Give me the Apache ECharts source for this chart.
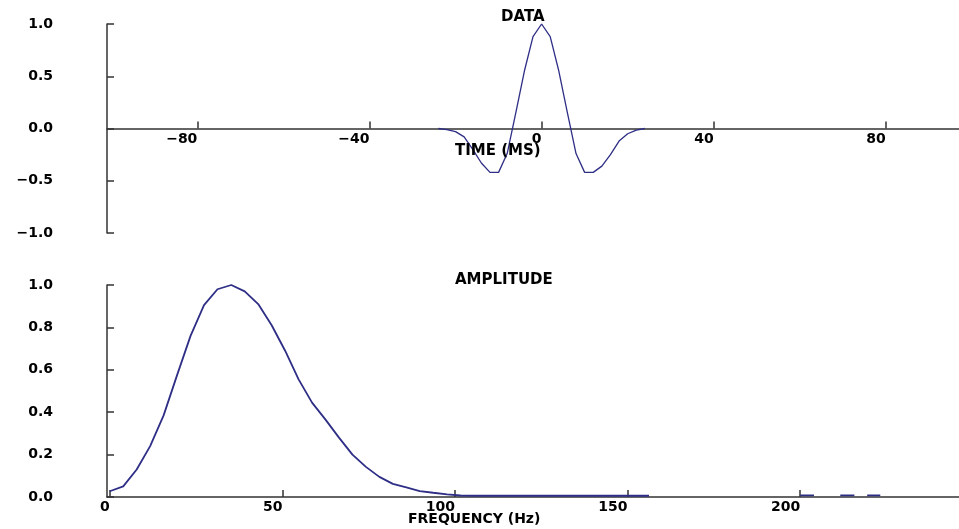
<!DOCTYPE html>
<html>
<head>
<meta charset="utf-8">
<script src="https://cdn.jsdelivr.net/npm/echarts@6/dist/echarts.min.js"></script>
<style>
html,body{margin:0;padding:0;background:#fff;}
#chart{width:959px;height:529px;}
</style>
</head>
<body>
<div id="chart"></div>
<script>
// ---- Top panel: wavelet in time domain ----
const timeMs = [-24,-22,-20,-18,-16,-14,-12,-10,-8,-6,-4,-2,0,2,4,6,8,10,12,14,16,18,20,22,24];
const waveAmp = [0,-0.01,-0.03,-0.08,-0.2,-0.33,-0.42,-0.42,-0.24,0.15,0.55,0.88,1.0,0.88,0.55,0.15,-0.24,-0.42,-0.42,-0.36,-0.25,-0.12,-0.05,-0.015,0];
const timeTicks = [-80,-40,0,40,80];

// ---- Bottom panel: amplitude spectrum ----
const freqHz = [0,3.9,7.8,11.7,15.6,19.5,23.4,27.3,31.2,35.2,39.1,43.0,46.9,50.8,54.7,58.6,62.5,66.4,70.3,74.2,78.1,82.0,85.9,89.8,93.7,97.7,101.6,105.5,109.4,113.3,117.2,121.1,125.0,128.9,132.8,136.7,140.6,144.5,148.4,152.3,156.2,
  180,200,204,208,211.6,215.7,217,219.4,223.2];
const specAmp = [0.027,0.05,0.13,0.24,0.385,0.575,0.76,0.905,0.98,1.0,0.97,0.91,0.81,0.69,0.555,0.445,0.365,0.28,0.2,0.142,0.095,0.062,0.045,0.028,0.02,0.012,0.007,0.006,0.006,0.006,0.006,0.006,0.006,0.006,0.006,0.006,0.006,0.006,0.006,0.006,0.006,
  null,0.008,0.008,null,0.008,0.008,null,0.008,0.008];
const freqTicks = [0,50,100,150,200];

const FONT = 'DejaVu Sans';
const AX = '#333333';
const LINE = '#2e2e86';

function fmtMinus(v, d){
  const s = (d === undefined) ? String(v) : Number(v).toFixed(d);
  return s.replace('-', '\u2212');
}

const labelStyle = {fontFamily: FONT, fontWeight: 'bold', fontSize: 14, color: '#000'};
const titleStyle = {fontFamily: FONT, fontWeight: 'bold', fontSize: 15, color: '#000'};

const TOP_H = 209;

const chart = echarts.init(document.getElementById('chart'), null, {renderer: 'canvas'});
chart.setOption({
  animation: false,
  backgroundColor: '#ffffff',
  title: [
    {text: 'DATA', left: 501, top: 10, padding: 0, textStyle: titleStyle},
    {text: 'TIME (MS)', left: 455, top: 144, padding: 0, textStyle: titleStyle},
    {text: 'AMPLITUDE', left: 455, top: 273, padding: 0, textStyle: titleStyle},
    {text: 'FREQUENCY (Hz)', left: 408, top: 512, padding: 0, textStyle: Object.assign({}, titleStyle, {fontSize: 14})}
  ],
  grid: [
    {left: 107, right: 0, top: 24, height: TOP_H, containLabel: false},
    {left: 107, right: 0, top: 285, height: 212, containLabel: false}
  ],
  xAxis: [
    {
      gridIndex: 0, type: 'value', min: -101, max: 97,
      position: 'bottom', offset: -TOP_H / 2,
      axisLine: {show: true, onZero: false, lineStyle: {color: AX, width: 1.5}},
      axisTick: {show: true, inside: true, length: 7, customValues: timeTicks, lineStyle: {color: AX, width: 1.5}},
      axisLabel: Object.assign({customValues: timeTicks, align: 'right', margin: 4,
        formatter: v => fmtMinus(v)}, labelStyle),
      splitLine: {show: false}
    },
    {
      gridIndex: 1, type: 'value', min: -0.8, max: 246,
      axisLine: {show: true, onZero: false, lineStyle: {color: AX, width: 1.5}},
      axisTick: {show: true, inside: true, length: 7, customValues: freqTicks, lineStyle: {color: AX, width: 1.5}},
      axisLabel: Object.assign({customValues: freqTicks, align: 'right', margin: 3,
        formatter: v => String(v)}, labelStyle),
      splitLine: {show: false}
    }
  ],
  yAxis: [
    {
      gridIndex: 0, type: 'value', min: -1, max: 1, interval: 0.5,
      axisLine: {show: true, onZero: false, lineStyle: {color: AX, width: 1.5}},
      axisTick: {show: true, inside: true, length: 7, lineStyle: {color: AX, width: 1.5}},
      axisLabel: Object.assign({margin: 54, padding: [4,0,0,0], formatter: v => fmtMinus(v, 1)}, labelStyle),
      splitLine: {show: false}
    },
    {
      gridIndex: 1, type: 'value', min: 0, max: 1, interval: 0.2,
      axisLine: {show: true, onZero: false, lineStyle: {color: AX, width: 1.5}},
      axisTick: {show: true, inside: true, length: 7, lineStyle: {color: AX, width: 1.5}},
      axisLabel: Object.assign({margin: 54, padding: [4,0,0,0], formatter: v => fmtMinus(v, 1)}, labelStyle),
      splitLine: {show: false}
    }
  ],
  series: [
    {
      type: 'line', xAxisIndex: 0, yAxisIndex: 0,
      data: timeMs.map((t, i) => [t, waveAmp[i]]),
      showSymbol: false, symbol: 'none', smooth: false,
      lineStyle: {color: LINE, width: 1.3},
      clip: false
    },
    {
      type: 'line', xAxisIndex: 1, yAxisIndex: 1,
      data: freqHz.map((f, i) => [f, specAmp[i] === null ? '-' : specAmp[i]]),
      showSymbol: false, symbol: 'none', smooth: false, connectNulls: false,
      lineStyle: {color: LINE, width: 1.8},
      clip: false
    }
  ]
});
</script>
</body>
</html>
